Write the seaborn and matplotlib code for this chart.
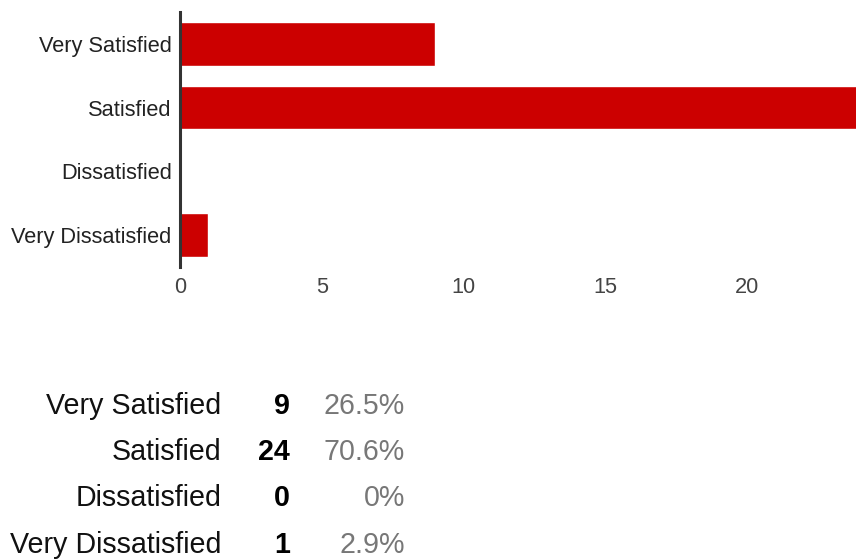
import matplotlib
matplotlib.use("Agg")
import matplotlib.pyplot as plt
import seaborn as sns
import pandas as pd

categories = ["Very Satisfied", "Satisfied", "Dissatisfied", "Very Dissatisfied"]
counts = [9, 24, 0, 1]
x_ticks = [0, 5, 10, 15, 20]

total = sum(counts)
percents = [100.0 * c / total for c in counts]

df = pd.DataFrame({"response": categories, "count": counts})

sns.set_theme(style="white")
plt.rcParams["font.family"] = ["Liberation Sans", "DejaVu Sans"]

W, H = 856, 560
fig = plt.figure(figsize=(W / 100, H / 100), dpi=100)
ax = fig.add_axes([180 / W, 1 - 267 / H, (W - 180) / W, 255 / H])

sns.barplot(data=df, y="response", x="count", order=categories, orient="h",
            color="#cc0000", saturation=1, width=0.68, ax=ax)

ax.set_xlim(0, 23.85)
ax.set_ylim(3.5, -0.5)
ax.set_xticks(x_ticks)
ax.set_xlabel("")
ax.set_ylabel("")
for s in ["top", "right", "bottom"]:
    ax.spines[s].set_visible(False)
ax.spines["left"].set_color("#333333")
ax.spines["left"].set_linewidth(2.2)
ax.spines["left"].set_zorder(5)
ax.tick_params(axis="y", length=0, pad=6, labelsize=15.7, labelcolor="#222222")
ax.tick_params(axis="x", length=0, pad=7, labelsize=15.7, labelcolor="#444444")
ax.grid(False)

# summary table below the chart
row_y = [406, 452, 498, 545]
for cat, c, p, y in zip(categories, counts, percents, row_y):
    fy = 1 - y / H
    fig.text(221 / W, fy, cat, ha="right", va="center", fontsize=20.6, color="#111111")
    fig.text(290 / W, fy, str(c), ha="right", va="center", fontsize=20.6,
             fontweight="bold", color="#000000")
    fig.text(405 / W, fy, f"{round(p, 1):g}%", ha="right", va="center",
             fontsize=20.6, color="#777777")

fig.savefig("out.png", dpi=100)
